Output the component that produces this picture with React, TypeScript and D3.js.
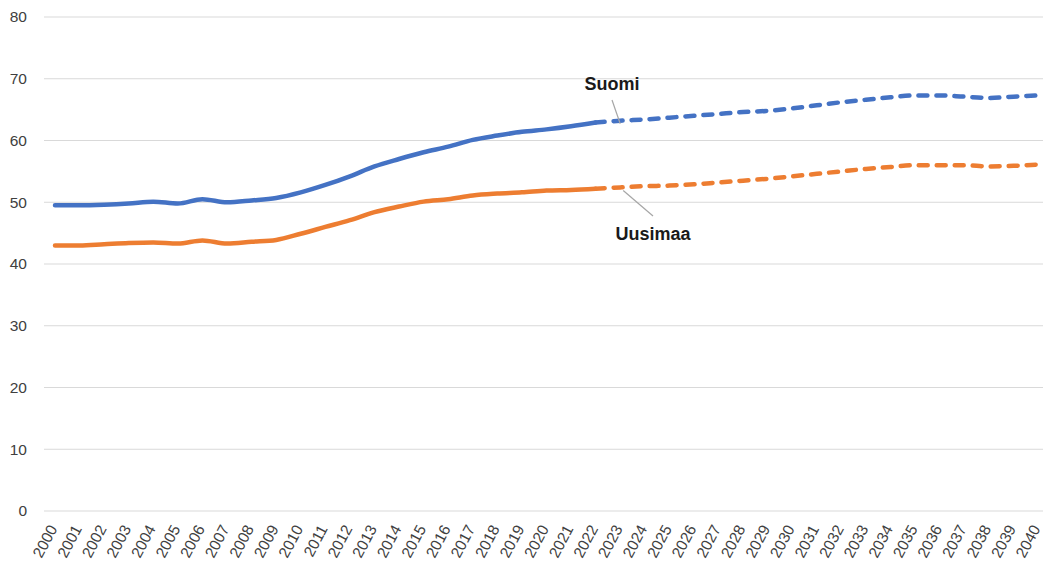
import React from "react";
import * as d3 from "d3";

const years: number[] = d3.range(2000, 2041);
const suomi: number[] = [
  49.5, 49.5, 49.6, 49.8, 50.1, 49.8, 50.5, 50.0, 50.3, 50.7,
  51.6, 52.8, 54.2, 55.8, 57.0, 58.1, 59.0, 60.1, 60.8, 61.4,
  61.8, 62.3, 62.9, 63.2, 63.4, 63.7, 64.0, 64.3, 64.6, 64.8,
  65.2, 65.7, 66.2, 66.6, 67.0, 67.3, 67.3, 67.1, 66.9, 67.1, 67.3,
];
const uusimaa: number[] = [
  43.0, 43.0, 43.2, 43.4, 43.5, 43.3, 43.8, 43.3, 43.6, 43.9,
  44.9, 46.0, 47.1, 48.4, 49.3, 50.1, 50.5, 51.1, 51.4, 51.6,
  51.9, 52.0, 52.2, 52.4, 52.6, 52.7, 52.9, 53.2, 53.5, 53.8,
  54.2, 54.6, 55.0, 55.4, 55.7, 56.0, 56.0, 56.0, 55.8, 55.9, 56.1,
];
const lastActualYear = 2022;
const yTicks: number[] = [0, 10, 20, 30, 40, 50, 60, 70, 80];
const labelYear = 2023;

const W = 1043;
const H = 563;
const font = "'Liberation Sans', Arial, sans-serif";

export default function App() {
  const x = d3.scaleLinear().domain([2000, 2040]).range([55, 1038]);
  const y = d3.scaleLinear().domain([0, 80]).range([511, 17]);
  const line = d3
    .line<[number, number]>()
    .x((d) => x(d[0]))
    .y((d) => y(d[1]))
    .curve(d3.curveMonotoneX);

  const series = [
    { name: "Suomi", values: suomi, color: "#4472C4" },
    { name: "Uusimaa", values: uusimaa, color: "#ED7D31" },
  ];

  const li = years.indexOf(labelYear);

  return (
    <div style={{ position: "absolute", left: 0, top: 0 }}>
      <svg width={W} height={H} style={{ display: "block", background: "#fff" }}>
        {yTicks.map((t) => (
          <g key={t}>
            <line x1={44} x2={W} y1={y(t)} y2={y(t)} stroke="#d9d9d9" strokeWidth={1} />
            <text
              x={27}
              y={y(t)}
              dy="0.35em"
              textAnchor="end"
              fontFamily={font}
              fontSize={15.5}
              fill="#404040"
            >
              {t}
            </text>
          </g>
        ))}
        {years.map((yr) => (
          <text
            key={yr}
            transform={`translate(${x(yr) - 2},${526}) rotate(-62)`}
            dy="0.35em"
            textAnchor="end"
            fontFamily={font}
            fontSize={15.5}
            fill="#404040"
          >
            {yr}
          </text>
        ))}
        {series.map((s) => {
          const pts: [number, number][] = years.map((yr, i) => [yr, s.values[i]]);
          const actual = pts.filter((p) => p[0] <= lastActualYear);
          const proj = pts.filter((p) => p[0] >= lastActualYear);
          return (
            <g key={s.name}>
              <path
                d={line(actual) || ""}
                fill="none"
                stroke={s.color}
                strokeWidth={4.5}
                strokeLinejoin="round"
                strokeLinecap="round"
              />
              <path
                d={line(proj) || ""}
                fill="none"
                stroke={s.color}
                strokeWidth={4.5}
                strokeDasharray="9 9"
                strokeLinecap="round"
              />
            </g>
          );
        })}
        {/* annotations */}
        <line x1={612} y1={100} x2={x(labelYear)} y2={y(suomi[li]) + 3} stroke="#a6a6a6" strokeWidth={1.2} />
        <text x={612} y={90} textAnchor="middle" fontFamily={font} fontWeight="bold" fontSize={18} fill="#1a1a1a">
          Suomi
        </text>
        <line x1={x(labelYear) + 3} y1={y(uusimaa[li]) + 3} x2={653} y2={216} stroke="#a6a6a6" strokeWidth={1.2} />
        <text x={653} y={240} textAnchor="middle" fontFamily={font} fontWeight="bold" fontSize={18} fill="#1a1a1a">
          Uusimaa
        </text>
      </svg>
    </div>
  );
}
